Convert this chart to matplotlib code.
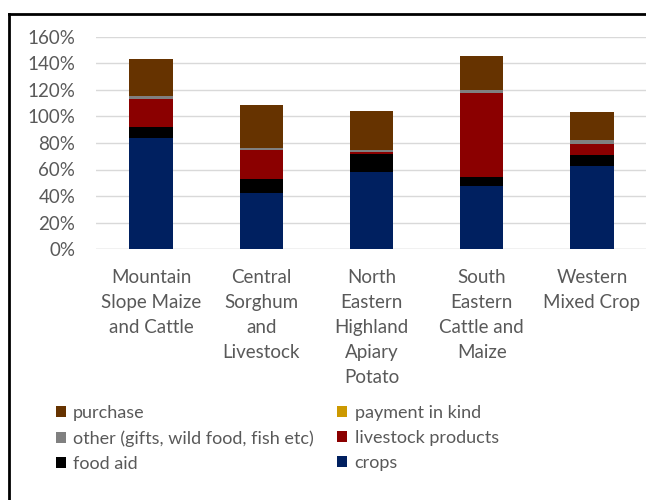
import matplotlib
matplotlib.use("Agg")
import matplotlib.pyplot as plt
from matplotlib.patches import Patch
from matplotlib.lines import Line2D
import numpy as np

categories = ["Mountain\nSlope Maize\nand Cattle", "Central\nSorghum\nand\nLivestock",
              "North\nEastern\nHighland\nApiary\nPotato", "South\nEastern\nCattle and\nMaize",
              "Western\nMixed Crop"]
crops = [84, 42, 58.3, 47.6, 63]
food_aid = [8, 10.5, 13.6, 6.8, 7.8]
livestock = [21, 22, 1, 63.4, 8.7]
other = [2, 2, 1.8, 2, 2.8]
payment_in_kind = [0, 0, 0, 0, 0]
purchase = [28, 32, 29, 25.2, 21.3]
yticks = [0, 20, 40, 60, 80, 100, 120, 140, 160]

series = [("crops", crops, "#002060"),
          ("food aid", food_aid, "#000000"),
          ("livestock products", livestock, "#8B0000"),
          ("other (gifts, wild food, fish etc)", other, "#808080"),
          ("payment in kind", payment_in_kind, "#CC9900"),
          ("purchase", purchase, "#663300")]

font = "Lato"
fig = plt.figure(figsize=(6.46, 5.0), dpi=100)
W, H = 646, 500
ax = fig.add_axes([96 / W, 1 - 249.3 / H, (647 - 96) / W, (249.3 - 36.5) / H])

x = np.arange(len(categories))
bottom = np.zeros(len(categories))
handles = {}
for name, vals, col in series:
    v = np.array(vals, dtype=float)
    ax.bar(x, v, bottom=bottom, width=0.394, color=col, zorder=3)
    bottom += v
    handles[name] = Patch(facecolor=col, edgecolor="none")

ax.set_xlim(-0.5, len(categories) - 0.5)
ax.set_ylim(0, 160)
ax.set_yticks(yticks)
ax.set_yticklabels([f"{t}%" for t in yticks], fontfamily=font, fontsize=13.5, color="#595959")
ax.set_xticks(x)
ax.set_xticklabels(categories, fontfamily=font, fontsize=13.5, color="#595959", linespacing=1.58)
ax.tick_params(axis="both", length=0)
ax.tick_params(axis="y", pad=15)
ax.tick_params(axis="x", pad=14)
ax.grid(axis="y", color="#d9d9d9", linewidth=1, zorder=0)
for s in ax.spines.values():
    s.set_visible(False)
ax.axhline(0, color="#d9d9d9", linewidth=1, zorder=2)

order = ["purchase", "other (gifts, wild food, fish etc)", "food aid",
         "payment in kind", "livestock products", "crops"]
leg = fig.legend([handles[o] for o in order], order, ncol=2, loc="upper left",
                 bbox_to_anchor=(47 / W, 1 - 396 / H), frameon=False,
                 prop={"family": font, "size": 13}, handlelength=0.55, handleheight=0.55,
                 handletextpad=0.4, columnspacing=1.3, labelspacing=0.5, borderpad=0)
for t in leg.get_texts():
    t.set_color("#595959")

# partial frame
fig.add_artist(Line2D([9 / W, 9 / W], [0, 1 - 14 / H], color="black", lw=2, transform=fig.transFigure))
fig.add_artist(Line2D([9 / W, 1], [1 - 14 / H, 1 - 14 / H], color="black", lw=2, transform=fig.transFigure))

fig.savefig("out.png", dpi=100)
